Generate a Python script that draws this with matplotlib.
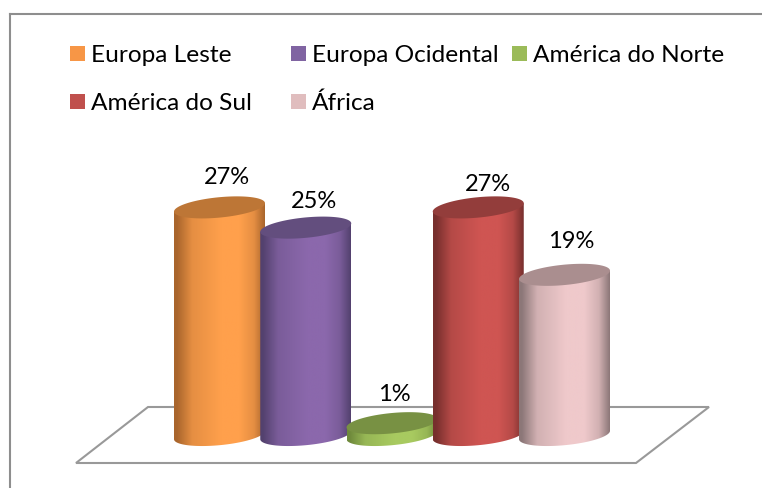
import numpy as np
import matplotlib
matplotlib.use("Agg")
import matplotlib.pyplot as plt
from matplotlib.colors import LinearSegmentedColormap, to_rgb
from matplotlib.lines import Line2D
from matplotlib.patches import Polygon, Rectangle

plt.rcParams['font.family'] = ['Lato', 'DejaVu Sans']

# --- data ---
categories = ["Europa Leste", "Europa Ocidental", "América do Norte", "América do Sul", "África"]
values = [27.0, 24.6, 1.4, 27.0, 19.0]
legend_colors = ["#F79646", "#8064A2", "#9BBB59", "#C0504D", "#E0BDBE"]
edge_colors = ["#A9652C", "#53416E", "#6F8A3C", "#772F2D", "#8C7778"]
mid_colors = ["#FFA04C", "#8B68AC", "#A8CA60", "#CF5552", "#EFC9CB"]
top_colors = ["#BD7636", "#634E7E", "#789143", "#933D3B", "#AA8E8F"]

# label offsets from each cylinder's top centre, in pixels
label_dx = [7, 8.5, 2, 10, 7]
label_dy = [29.5, 26.5, 29, 22.5, 33]
# legend layout, in pixels: left edge of the key, baseline of the row
legend_x = [70, 291, 512, 70, 291]
legend_y = [62, 62, 62, 110, 110]

W, H = 762, 488
fig = plt.figure(figsize=(W / 100, H / 100), dpi=100, facecolor="white")
ax = fig.add_axes([0, 0, 1, 1])

# data scale: one category = 86.25 px, one percent = 8.43 px
x0_px, xu, y0_px, yu = 219.5, 86.25, 435.0, 8.43
xlim = ((0 - x0_px) / xu, (W - x0_px) / xu)
ylim = ((y0_px - H) / yu, y0_px / yu)
ax.set_xlim(*xlim)
ax.set_ylim(*ylim)
ax.axis("off")


def to_fig(x, y):
    return (x / W, 1 - y / H)


GRAY = "#8E8E8E"
# outer frame: only the top and left rules are in the picture
for a, b in ((to_fig(9.5, 487.5), to_fig(9.5, 14)), (to_fig(9.5, 14), to_fig(762, 14))):
    fig.add_artist(Line2D([a[0], b[0]], [a[1], b[1]], color=GRAY, lw=1.5,
                          transform=fig.transFigure, solid_capstyle="projecting"))
# floor
floor = Polygon([to_fig(148, 407), to_fig(709, 407), to_fig(636, 463), to_fig(76, 463)],
                closed=True, fill=False, ec="#999999", lw=1.5, transform=fig.transFigure, zorder=1)
ax.add_patch(floor)

half_w = 45.5 / xu
half_h = 10.2 / yu
slope = (4.2 / 45.5) * (xu / yu)   # rise (data y) per data x

t = np.linspace(0, 2 * np.pi, 181)
for i, (v, ec, mc, tc) in enumerate(zip(values, edge_colors, mid_colors, top_colors)):
    z = 3 + i
    ex = half_w * np.cos(t)
    ey = half_h * np.sin(t) + slope * ex
    lo = (t >= np.pi)
    body_x = np.r_[i + ex[lo], i + half_w, i - half_w]
    body_y = np.r_[ey[lo], v + slope * half_w, v - slope * half_w]
    body = Polygon(np.c_[body_x, body_y], closed=True, fc="none", ec="none",
                   transform=ax.transData, zorder=z)
    ax.add_patch(body)
    blend = tuple(0.3 * a + 0.7 * b for a, b in zip(to_rgb(ec), to_rgb(mc)))
    cmap = LinearSegmentedColormap.from_list(
        f"c{i}", [(0, ec), (0.03, ec), (0.2, blend), (0.52, mc), (0.72, mc), (0.88, blend), (1, ec)])
    grad = np.linspace(0, 1, 256).reshape(1, -1)
    im = ax.imshow(grad, cmap=cmap, aspect="auto", zorder=z,
                   extent=(i - half_w, i + half_w, -half_h - 1, v + half_h + 1))
    im.set_clip_path(body)
    ax.fill(i + ex, v + ey, fc=tc, ec="none", zorder=z + 0.1)
    ax.annotate(f"{v:.0f}%", xy=(i, v), xycoords="data",
                xytext=(label_dx[i] * 0.72, label_dy[i] * 0.72), textcoords="offset points",
                ha="center", va="center", fontsize=17, color="black", zorder=20)

ax.set_xlim(*xlim)
ax.set_ylim(*ylim)

# legend
for name, col, lx, ly in zip(categories, legend_colors, legend_x, legend_y):
    x, y = to_fig(lx, ly - 16)
    fig.add_artist(Rectangle((x, y - 15 / H), 15 / W, 15 / H, fc=col, ec="none",
                             transform=fig.transFigure))
    tx, ty = to_fig(lx + 21, ly)
    fig.text(tx, ty, name, ha="left", va="baseline", fontsize=17.6, color="black")

fig.savefig("out.png", dpi=100, facecolor="white")
